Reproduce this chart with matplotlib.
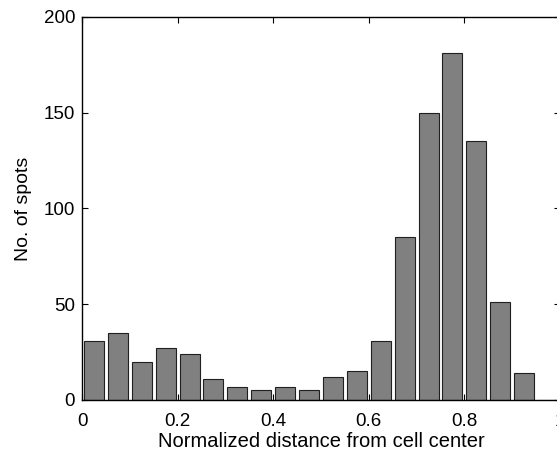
import numpy as np
import matplotlib.pyplot as plt

# histogram of spot positions
bin_centers = np.arange(0.025, 1.0, 0.05)
counts = [31, 35, 20, 27, 24, 11, 7, 5, 7, 5,
          12, 15, 31, 85, 150, 181, 135, 51, 14, 0]

plt.rcParams['font.family'] = ['Liberation Sans', 'DejaVu Sans']

fig = plt.figure(figsize=(5.57, 4.5), dpi=100)
# right edge of the axes sits just past the figure edge, as in the original
ax = fig.add_axes([82 / 557, 50 / 450, 478 / 557, 383 / 450])

ax.bar(bin_centers, counts, width=0.042, color='#808080',
       edgecolor='#202020', linewidth=0.8)

ax.set_xlim(0, 1)
ax.set_ylim(0, 200)
ax.set_xticks([0, 0.2, 0.4, 0.6, 0.8, 1])
ax.set_xticklabels(['0', '0.2', '0.4', '0.6', '0.8', '1'])
ax.set_yticks([0, 50, 100, 150, 200])
ax.tick_params(direction='in', top=True, right=True, length=4,
               labelsize=13.5)
ax.tick_params(axis='x', pad=9)
ax.tick_params(axis='y', pad=5)
for s in ax.spines.values():
    s.set_linewidth(1.0)

ax.set_xlabel("Normalized distance from cell center", fontsize=14.5, labelpad=2)
ax.set_ylabel("No. of spots", fontsize=14, labelpad=8)

fig.savefig("out.png", dpi=100)
